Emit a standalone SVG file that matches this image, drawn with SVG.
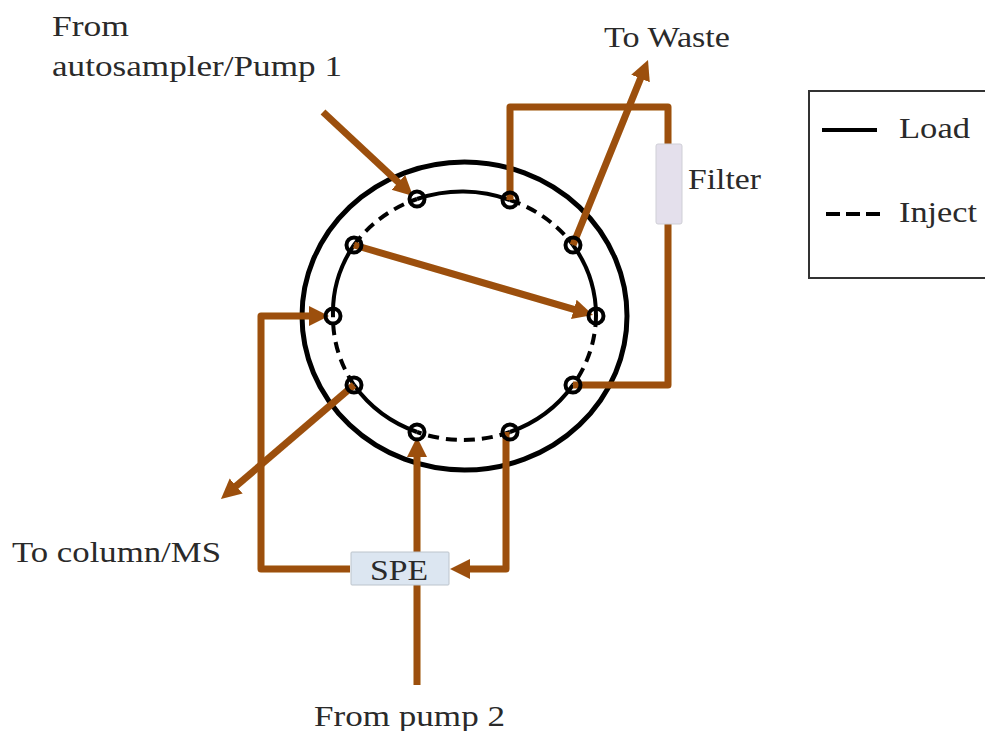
<svg xmlns="http://www.w3.org/2000/svg" width="985" height="731" viewBox="0 0 985 731">
<style>
text{font-family:"Liberation Serif","Times New Roman",serif;font-size:30px;fill:#2a2a2a}
.pipe{fill:none;stroke:#9c4f0a;stroke-width:7;stroke-linejoin:round}
.solid{fill:none;stroke:#000;stroke-width:4}
.dash{fill:none;stroke:#000;stroke-width:4;stroke-dasharray:11 7}
.port{fill:none;stroke:#000;stroke-width:4}
</style>
<defs>
<marker id="arrow" markerUnits="userSpaceOnUse" markerWidth="22" markerHeight="22" refX="8" refY="10" orient="auto"><path d="M0 0L20 10L0 20Z" fill="#9c4f0a"/></marker>
<filter id="soft" x="-5%" y="-5%" width="110%" height="110%"><feGaussianBlur stdDeviation="0.6"/></filter>
</defs>
<rect width="985" height="731" fill="#fff"/>
<g id="valve" filter="url(#soft)">
<ellipse cx="464.500" cy="316" rx="162.500" ry="154" fill="none" stroke="#000" stroke-width="5"/>
<path class="solid" d="M417 199A132 125 0 0 1 510 200"/>
<path class="dash" d="M510 200A132 125 0 0 1 573 245"/>
<path class="solid" d="M573 245A132 125 0 0 1 596 316"/>
<path class="dash" d="M596 316A132 125 0 0 1 573 385"/>
<path class="solid" d="M573 385A132 125 0 0 1 510 432"/>
<path class="dash" d="M510 432A132 125 0 0 1 417 432"/>
<path class="solid" d="M417 432A132 125 0 0 1 354 385"/>
<path class="dash" d="M354 385A132 125 0 0 1 333 316"/>
<path class="solid" d="M333 316A132 125 0 0 1 354 245"/>
<path class="dash" d="M354 245A132 125 0 0 1 417 199"/>
</g>
<g id="connectors" filter="url(#soft)">
<path class="pipe" d="M323 112L404.200 187.800" marker-end="url(#arrow)"/>
<path class="pipe" d="M510 200V107H668V385H573"/>
<path class="pipe" d="M573 245L643.500 71.100" marker-end="url(#arrow)"/>
<path class="pipe" d="M354 245L581.500 311.600" marker-end="url(#arrow)"/>
<path class="pipe" d="M354 385L230.100 491.200" marker-end="url(#arrow)"/>
<path class="pipe" d="M350 569H261V316H317" marker-end="url(#arrow)"/>
<path class="pipe" d="M417 685V449" marker-end="url(#arrow)"/>
<path class="pipe" d="M506 432V569H462" marker-end="url(#arrow)"/>
</g>
<g id="ports" filter="url(#soft)">
<circle class="port" cx="417" cy="199" r="7.500"/><circle class="port" cx="510" cy="200" r="7.500"/>
<circle class="port" cx="573" cy="245" r="7.500"/><circle class="port" cx="596" cy="316" r="7.500"/>
<circle class="port" cx="573" cy="385" r="7.500"/><circle class="port" cx="510" cy="432" r="7.500"/>
<circle class="port" cx="417" cy="432" r="7.500"/><circle class="port" cx="354" cy="385" r="7.500"/>
<circle class="port" cx="333" cy="316" r="7.500"/><circle class="port" cx="354" cy="245" r="7.500"/>
</g>
<g id="filter">
<rect x="656" y="144" width="26" height="80" rx="2" fill="#e4e0ec" stroke="#cfcfd6"/>
<text x="688" y="189" textLength="73" lengthAdjust="spacingAndGlyphs">Filter</text>
</g>
<g id="spe">
<rect x="351" y="552" width="98" height="33" rx="1" fill="#dce6f1" stroke="#bcc4cc"/>
<text x="370" y="580" textLength="58" lengthAdjust="spacingAndGlyphs">SPE</text>
</g>
<g id="legend">
<rect x="809" y="91" width="178" height="187" fill="#fff" stroke="#333" stroke-width="2"/>
<path d="M822 130H877" stroke="#000" stroke-width="4"/>
<path d="M826 214H881" stroke="#000" stroke-width="4" stroke-dasharray="14 6"/>
<text x="899" y="138" textLength="71" lengthAdjust="spacingAndGlyphs">Load</text>
<text x="899" y="222" textLength="78" lengthAdjust="spacingAndGlyphs">Inject</text>
</g>
<g id="labels">
<text x="52" y="36" textLength="77" lengthAdjust="spacingAndGlyphs">From</text>
<text x="52" y="76" textLength="290" lengthAdjust="spacingAndGlyphs">autosampler/Pump 1</text>
<text x="604" y="47" textLength="126" lengthAdjust="spacingAndGlyphs">To Waste</text>
<text x="12" y="562" textLength="209" lengthAdjust="spacingAndGlyphs">To column/MS</text>
<text x="314" y="726" textLength="191" lengthAdjust="spacingAndGlyphs">From pump 2</text>
</g>
</svg>
